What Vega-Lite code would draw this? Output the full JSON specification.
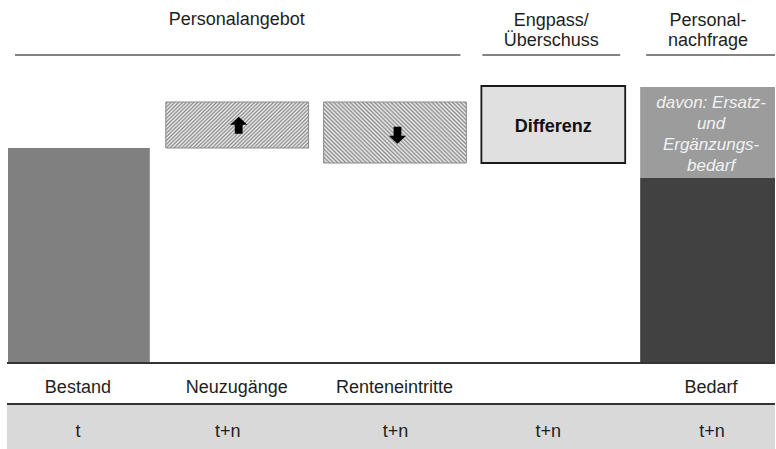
{
  "$schema": "https://vega.github.io/schema/vega-lite/v6.json",
  "width": 776,
  "height": 449,
  "autosize": {"type": "fit", "contains": "padding"},
  "padding": 0,
  "background": "white",
  "config": {"view": {"stroke": null}, "text": {"font": "Liberation Sans", "fontSize": 18, "color": "#1e1e1e"}},
  "datasets": {
    "blocks": [
      {"part": "Bestand", "x0": 8, "x1": 150, "lo": 0, "hi": 215},
      {"part": "Neuzugänge", "x0": 166, "x1": 309, "lo": 215, "hi": 261},
      {"part": "Renteneintritte", "x0": 324, "x1": 467, "lo": 200, "hi": 261},
      {"part": "Differenz", "x0": 482, "x1": 626, "lo": 200, "hi": 277},
      {"part": "Bedarf", "x0": 641, "x1": 776, "lo": 0, "hi": 185},
      {"part": "Ersatz- und Ergänzungsbedarf", "x0": 641, "x1": 776, "lo": 185, "hi": 276},
      {"part": "Zeit", "x0": 7, "x1": 776, "lo": -86, "hi": -42}
    ],
    "lines": [
      {"kind": "header", "x0": 15, "x1": 461, "lo": 308},
      {"kind": "header", "x0": 483, "x1": 621, "lo": 308},
      {"kind": "header", "x0": 647, "x1": 776, "lo": 308},
      {"kind": "axis", "x0": 7, "x1": 776, "lo": 0},
      {"kind": "axis", "x0": 7, "x1": 776, "lo": -41}
    ],
    "texts": [
      {"kind": "header", "label": "Personalangebot", "xc": 237, "yb": 338},
      {"kind": "header", "label": "Engpass/\nÜberschuss", "xc": 552, "yb": 337},
      {"kind": "header", "label": "Personal-\nnachfrage", "xc": 709, "yb": 337},
      {"kind": "label", "label": "Bestand", "xc": 78, "yb": -30},
      {"kind": "label", "label": "Neuzugänge", "xc": 237, "yb": -30},
      {"kind": "label", "label": "Renteneintritte", "xc": 395, "yb": -30},
      {"kind": "label", "label": "Bedarf", "xc": 712, "yb": -30},
      {"kind": "label", "label": "t", "xc": 78, "yb": -74},
      {"kind": "label", "label": "t+n", "xc": 228, "yb": -74},
      {"kind": "label", "label": "t+n", "xc": 396, "yb": -74},
      {"kind": "label", "label": "t+n", "xc": 549, "yb": -74},
      {"kind": "label", "label": "t+n", "xc": 713, "yb": -74},
      {"kind": "bold", "label": "Differenz", "xc": 554, "yb": 231},
      {"kind": "italic", "label": "davon: Ersatz-\nund\nErgänzungs-\nbedarf", "xc": 712, "yb": 255}
    ],
    "arrows": [
      {"dir": "hoch", "xc": 239, "yc": 237.5},
      {"dir": "runter", "xc": 398, "yc": 228}
    ]
  },
  "layer": [
    {
      "data": {"name": "blocks"},
      "transform": [{"filter": "indexof(['Bestand','Bedarf','Ersatz- und Ergänzungsbedarf','Zeit'], datum.part) >= 0"}],
      "mark": {"type": "rect"},
      "encoding": {
        "x": {"field": "x0", "type": "quantitative", "scale": {"domain": [0, 776], "nice": false, "zero": false}, "axis": null},
        "x2": {"field": "x1"},
        "y": {"field": "lo", "type": "quantitative", "scale": {"domain": [-86, 363], "nice": false, "zero": false}, "axis": null},
        "y2": {"field": "hi"},
        "color": {"field": "part", "type": "nominal", "legend": null,
          "scale": {"domain": ["Bestand", "Bedarf", "Ersatz- und Ergänzungsbedarf", "Zeit"], "range": ["#808080", "#414141", "#9c9c9c", "#d9d9d9"]}}
      }
    },
    {
      "data": {"name": "blocks"},
      "transform": [{"filter": "datum.part === 'Neuzugänge'"}],
      "mark": {"type": "rect", "stroke": "#8a8a8a", "strokeWidth": 1,
        "fill": {"gradient": "linear", "x1": 0, "y1": 0, "x2": 1.199, "y2": 0.394, "stops": [
          {"offset": 0, "color": "#efefef"}, {"offset": 0.01, "color": "#8c8c8c"}, {"offset": 0.02, "color": "#efefef"}, {"offset": 0.03, "color": "#8c8c8c"}, {"offset": 0.04, "color": "#efefef"}, {"offset": 0.05, "color": "#8c8c8c"}, {"offset": 0.06, "color": "#efefef"}, {"offset": 0.07, "color": "#8c8c8c"}, {"offset": 0.08, "color": "#efefef"}, {"offset": 0.09, "color": "#8c8c8c"},
          {"offset": 0.10, "color": "#efefef"}, {"offset": 0.11, "color": "#8c8c8c"}, {"offset": 0.12, "color": "#efefef"}, {"offset": 0.13, "color": "#8c8c8c"}, {"offset": 0.14, "color": "#efefef"}, {"offset": 0.15, "color": "#8c8c8c"}, {"offset": 0.16, "color": "#efefef"}, {"offset": 0.17, "color": "#8c8c8c"}, {"offset": 0.18, "color": "#efefef"}, {"offset": 0.19, "color": "#8c8c8c"},
          {"offset": 0.20, "color": "#efefef"}, {"offset": 0.21, "color": "#8c8c8c"}, {"offset": 0.22, "color": "#efefef"}, {"offset": 0.23, "color": "#8c8c8c"}, {"offset": 0.24, "color": "#efefef"}, {"offset": 0.25, "color": "#8c8c8c"}, {"offset": 0.26, "color": "#efefef"}, {"offset": 0.27, "color": "#8c8c8c"}, {"offset": 0.28, "color": "#efefef"}, {"offset": 0.29, "color": "#8c8c8c"},
          {"offset": 0.30, "color": "#efefef"}, {"offset": 0.31, "color": "#8c8c8c"}, {"offset": 0.32, "color": "#efefef"}, {"offset": 0.33, "color": "#8c8c8c"}, {"offset": 0.34, "color": "#efefef"}, {"offset": 0.35, "color": "#8c8c8c"}, {"offset": 0.36, "color": "#efefef"}, {"offset": 0.37, "color": "#8c8c8c"}, {"offset": 0.38, "color": "#efefef"}, {"offset": 0.39, "color": "#8c8c8c"},
          {"offset": 0.40, "color": "#efefef"}, {"offset": 0.41, "color": "#8c8c8c"}, {"offset": 0.42, "color": "#efefef"}, {"offset": 0.43, "color": "#8c8c8c"}, {"offset": 0.44, "color": "#efefef"}, {"offset": 0.45, "color": "#8c8c8c"}, {"offset": 0.46, "color": "#efefef"}, {"offset": 0.47, "color": "#8c8c8c"}, {"offset": 0.48, "color": "#efefef"}, {"offset": 0.49, "color": "#8c8c8c"},
          {"offset": 0.50, "color": "#efefef"}, {"offset": 0.51, "color": "#8c8c8c"}, {"offset": 0.52, "color": "#efefef"}, {"offset": 0.53, "color": "#8c8c8c"}, {"offset": 0.54, "color": "#efefef"}, {"offset": 0.55, "color": "#8c8c8c"}, {"offset": 0.56, "color": "#efefef"}, {"offset": 0.57, "color": "#8c8c8c"}, {"offset": 0.58, "color": "#efefef"}, {"offset": 0.59, "color": "#8c8c8c"},
          {"offset": 0.60, "color": "#efefef"}, {"offset": 0.61, "color": "#8c8c8c"}, {"offset": 0.62, "color": "#efefef"}, {"offset": 0.63, "color": "#8c8c8c"}, {"offset": 0.64, "color": "#efefef"}, {"offset": 0.65, "color": "#8c8c8c"}, {"offset": 0.66, "color": "#efefef"}, {"offset": 0.67, "color": "#8c8c8c"}, {"offset": 0.68, "color": "#efefef"}, {"offset": 0.69, "color": "#8c8c8c"},
          {"offset": 0.70, "color": "#efefef"}, {"offset": 0.71, "color": "#8c8c8c"}, {"offset": 0.72, "color": "#efefef"}, {"offset": 0.73, "color": "#8c8c8c"}, {"offset": 0.74, "color": "#efefef"}, {"offset": 0.75, "color": "#8c8c8c"}, {"offset": 0.76, "color": "#efefef"}, {"offset": 0.77, "color": "#8c8c8c"}, {"offset": 0.78, "color": "#efefef"}, {"offset": 0.79, "color": "#8c8c8c"},
          {"offset": 0.80, "color": "#efefef"}, {"offset": 0.81, "color": "#8c8c8c"}, {"offset": 0.82, "color": "#efefef"}, {"offset": 0.83, "color": "#8c8c8c"}, {"offset": 0.84, "color": "#efefef"}, {"offset": 0.85, "color": "#8c8c8c"}, {"offset": 0.86, "color": "#efefef"}, {"offset": 0.87, "color": "#8c8c8c"}, {"offset": 0.88, "color": "#efefef"}, {"offset": 0.89, "color": "#8c8c8c"},
          {"offset": 0.90, "color": "#efefef"}, {"offset": 0.91, "color": "#8c8c8c"}, {"offset": 0.92, "color": "#efefef"}, {"offset": 0.93, "color": "#8c8c8c"}, {"offset": 0.94, "color": "#efefef"}, {"offset": 0.95, "color": "#8c8c8c"}, {"offset": 0.96, "color": "#efefef"}, {"offset": 0.97, "color": "#8c8c8c"}, {"offset": 0.98, "color": "#efefef"}, {"offset": 0.99, "color": "#8c8c8c"},
          {"offset": 1, "color": "#efefef"}
        ]}},
      "encoding": {
        "x": {"field": "x0", "type": "quantitative", "scale": {"domain": [0, 776], "nice": false, "zero": false}, "axis": null},
        "x2": {"field": "x1"},
        "y": {"field": "lo", "type": "quantitative", "scale": {"domain": [-86, 363], "nice": false, "zero": false}, "axis": null},
        "y2": {"field": "hi"}
      }
    },
    {
      "data": {"name": "blocks"},
      "transform": [{"filter": "datum.part === 'Renteneintritte'"}],
      "mark": {"type": "rect", "stroke": "#8a8a8a", "strokeWidth": 1,
        "fill": {"gradient": "linear", "x1": 1, "y1": 0, "x2": -0.207, "y2": 0.523, "stops": [
          {"offset": 0, "color": "#efefef"}, {"offset": 0.01, "color": "#8c8c8c"}, {"offset": 0.02, "color": "#efefef"}, {"offset": 0.03, "color": "#8c8c8c"}, {"offset": 0.04, "color": "#efefef"}, {"offset": 0.05, "color": "#8c8c8c"}, {"offset": 0.06, "color": "#efefef"}, {"offset": 0.07, "color": "#8c8c8c"}, {"offset": 0.08, "color": "#efefef"}, {"offset": 0.09, "color": "#8c8c8c"},
          {"offset": 0.10, "color": "#efefef"}, {"offset": 0.11, "color": "#8c8c8c"}, {"offset": 0.12, "color": "#efefef"}, {"offset": 0.13, "color": "#8c8c8c"}, {"offset": 0.14, "color": "#efefef"}, {"offset": 0.15, "color": "#8c8c8c"}, {"offset": 0.16, "color": "#efefef"}, {"offset": 0.17, "color": "#8c8c8c"}, {"offset": 0.18, "color": "#efefef"}, {"offset": 0.19, "color": "#8c8c8c"},
          {"offset": 0.20, "color": "#efefef"}, {"offset": 0.21, "color": "#8c8c8c"}, {"offset": 0.22, "color": "#efefef"}, {"offset": 0.23, "color": "#8c8c8c"}, {"offset": 0.24, "color": "#efefef"}, {"offset": 0.25, "color": "#8c8c8c"}, {"offset": 0.26, "color": "#efefef"}, {"offset": 0.27, "color": "#8c8c8c"}, {"offset": 0.28, "color": "#efefef"}, {"offset": 0.29, "color": "#8c8c8c"},
          {"offset": 0.30, "color": "#efefef"}, {"offset": 0.31, "color": "#8c8c8c"}, {"offset": 0.32, "color": "#efefef"}, {"offset": 0.33, "color": "#8c8c8c"}, {"offset": 0.34, "color": "#efefef"}, {"offset": 0.35, "color": "#8c8c8c"}, {"offset": 0.36, "color": "#efefef"}, {"offset": 0.37, "color": "#8c8c8c"}, {"offset": 0.38, "color": "#efefef"}, {"offset": 0.39, "color": "#8c8c8c"},
          {"offset": 0.40, "color": "#efefef"}, {"offset": 0.41, "color": "#8c8c8c"}, {"offset": 0.42, "color": "#efefef"}, {"offset": 0.43, "color": "#8c8c8c"}, {"offset": 0.44, "color": "#efefef"}, {"offset": 0.45, "color": "#8c8c8c"}, {"offset": 0.46, "color": "#efefef"}, {"offset": 0.47, "color": "#8c8c8c"}, {"offset": 0.48, "color": "#efefef"}, {"offset": 0.49, "color": "#8c8c8c"},
          {"offset": 0.50, "color": "#efefef"}, {"offset": 0.51, "color": "#8c8c8c"}, {"offset": 0.52, "color": "#efefef"}, {"offset": 0.53, "color": "#8c8c8c"}, {"offset": 0.54, "color": "#efefef"}, {"offset": 0.55, "color": "#8c8c8c"}, {"offset": 0.56, "color": "#efefef"}, {"offset": 0.57, "color": "#8c8c8c"}, {"offset": 0.58, "color": "#efefef"}, {"offset": 0.59, "color": "#8c8c8c"},
          {"offset": 0.60, "color": "#efefef"}, {"offset": 0.61, "color": "#8c8c8c"}, {"offset": 0.62, "color": "#efefef"}, {"offset": 0.63, "color": "#8c8c8c"}, {"offset": 0.64, "color": "#efefef"}, {"offset": 0.65, "color": "#8c8c8c"}, {"offset": 0.66, "color": "#efefef"}, {"offset": 0.67, "color": "#8c8c8c"}, {"offset": 0.68, "color": "#efefef"}, {"offset": 0.69, "color": "#8c8c8c"},
          {"offset": 0.70, "color": "#efefef"}, {"offset": 0.71, "color": "#8c8c8c"}, {"offset": 0.72, "color": "#efefef"}, {"offset": 0.73, "color": "#8c8c8c"}, {"offset": 0.74, "color": "#efefef"}, {"offset": 0.75, "color": "#8c8c8c"}, {"offset": 0.76, "color": "#efefef"}, {"offset": 0.77, "color": "#8c8c8c"}, {"offset": 0.78, "color": "#efefef"}, {"offset": 0.79, "color": "#8c8c8c"},
          {"offset": 0.80, "color": "#efefef"}, {"offset": 0.81, "color": "#8c8c8c"}, {"offset": 0.82, "color": "#efefef"}, {"offset": 0.83, "color": "#8c8c8c"}, {"offset": 0.84, "color": "#efefef"}, {"offset": 0.85, "color": "#8c8c8c"}, {"offset": 0.86, "color": "#efefef"}, {"offset": 0.87, "color": "#8c8c8c"}, {"offset": 0.88, "color": "#efefef"}, {"offset": 0.89, "color": "#8c8c8c"},
          {"offset": 0.90, "color": "#efefef"}, {"offset": 0.91, "color": "#8c8c8c"}, {"offset": 0.92, "color": "#efefef"}, {"offset": 0.93, "color": "#8c8c8c"}, {"offset": 0.94, "color": "#efefef"}, {"offset": 0.95, "color": "#8c8c8c"}, {"offset": 0.96, "color": "#efefef"}, {"offset": 0.97, "color": "#8c8c8c"}, {"offset": 0.98, "color": "#efefef"}, {"offset": 0.99, "color": "#8c8c8c"},
          {"offset": 1, "color": "#efefef"}
        ]}},
      "encoding": {
        "x": {"field": "x0", "type": "quantitative", "scale": {"domain": [0, 776], "nice": false, "zero": false}, "axis": null},
        "x2": {"field": "x1"},
        "y": {"field": "lo", "type": "quantitative", "scale": {"domain": [-86, 363], "nice": false, "zero": false}, "axis": null},
        "y2": {"field": "hi"}
      }
    },
    {
      "data": {"name": "blocks"},
      "transform": [{"filter": "datum.part === 'Differenz'"}],
      "mark": {"type": "rect", "fill": "#e0e0e0", "stroke": "#1a1a1a", "strokeWidth": 1.8},
      "encoding": {
        "x": {"field": "x0", "type": "quantitative", "scale": {"domain": [0, 776], "nice": false, "zero": false}, "axis": null},
        "x2": {"field": "x1"},
        "y": {"field": "lo", "type": "quantitative", "scale": {"domain": [-86, 363], "nice": false, "zero": false}, "axis": null},
        "y2": {"field": "hi"}
      }
    },
    {
      "data": {"name": "lines"},
      "transform": [{"filter": "datum.kind === 'header'"}],
      "mark": {"type": "rule", "color": "#5a5a5a", "strokeWidth": 1.5},
      "encoding": {
        "x": {"field": "x0", "type": "quantitative", "scale": {"domain": [0, 776], "nice": false, "zero": false}, "axis": null},
        "x2": {"field": "x1"},
        "y": {"field": "lo", "type": "quantitative", "scale": {"domain": [-86, 363], "nice": false, "zero": false}, "axis": null}
      }
    },
    {
      "data": {"name": "lines"},
      "transform": [{"filter": "datum.kind === 'axis'"}],
      "mark": {"type": "rule", "color": "#333333", "strokeWidth": 2},
      "encoding": {
        "x": {"field": "x0", "type": "quantitative", "scale": {"domain": [0, 776], "nice": false, "zero": false}, "axis": null},
        "x2": {"field": "x1"},
        "y": {"field": "lo", "type": "quantitative", "scale": {"domain": [-86, 363], "nice": false, "zero": false}, "axis": null}
      }
    },
    {
      "data": {"name": "arrows"},
      "mark": {"type": "point", "filled": true, "opacity": 1, "color": "#000000", "size": 300},
      "encoding": {
        "x": {"field": "xc", "type": "quantitative", "scale": {"domain": [0, 776], "nice": false, "zero": false}, "axis": null},
        "y": {"field": "yc", "type": "quantitative", "scale": {"domain": [-86, 363], "nice": false, "zero": false}, "axis": null},
        "shape": {"field": "dir", "type": "nominal", "legend": null,
          "scale": {"domain": ["hoch", "runter"], "range": ["M0,-1L1,-0.1L0.45,-0.1L0.45,0.95L-0.45,0.95L-0.45,-0.1L-1,-0.1Z", "M0,1L1,0.1L0.45,0.1L0.45,-0.95L-0.45,-0.95L-0.45,0.1L-1,0.1Z"]}}
      }
    },
    {
      "data": {"name": "texts"},
      "transform": [{"filter": "datum.kind === 'header' || datum.kind === 'label'"}],
      "mark": {"type": "text", "align": "center", "baseline": "alphabetic", "lineBreak": "\n", "lineHeight": 19.5, "fontSize": 18, "color": "#1e1e1e"},
      "encoding": {
        "x": {"field": "xc", "type": "quantitative", "scale": {"domain": [0, 776], "nice": false, "zero": false}, "axis": null},
        "y": {"field": "yb", "type": "quantitative", "scale": {"domain": [-86, 363], "nice": false, "zero": false}, "axis": null},
        "text": {"field": "label"}
      }
    },
    {
      "data": {"name": "texts"},
      "transform": [{"filter": "datum.kind === 'bold'"}],
      "mark": {"type": "text", "align": "center", "baseline": "alphabetic", "fontSize": 18, "fontWeight": "bold", "color": "#111111"},
      "encoding": {
        "x": {"field": "xc", "type": "quantitative", "scale": {"domain": [0, 776], "nice": false, "zero": false}, "axis": null},
        "y": {"field": "yb", "type": "quantitative", "scale": {"domain": [-86, 363], "nice": false, "zero": false}, "axis": null},
        "text": {"field": "label"}
      }
    },
    {
      "data": {"name": "texts"},
      "transform": [{"filter": "datum.kind === 'italic'"}],
      "mark": {"type": "text", "align": "center", "baseline": "alphabetic", "lineBreak": "\n", "lineHeight": 21, "fontSize": 17, "fontStyle": "italic", "color": "#f2f2f2"},
      "encoding": {
        "x": {"field": "xc", "type": "quantitative", "scale": {"domain": [0, 776], "nice": false, "zero": false}, "axis": null},
        "y": {"field": "yb", "type": "quantitative", "scale": {"domain": [-86, 363], "nice": false, "zero": false}, "axis": null},
        "text": {"field": "label"}
      }
    }
  ]
}
